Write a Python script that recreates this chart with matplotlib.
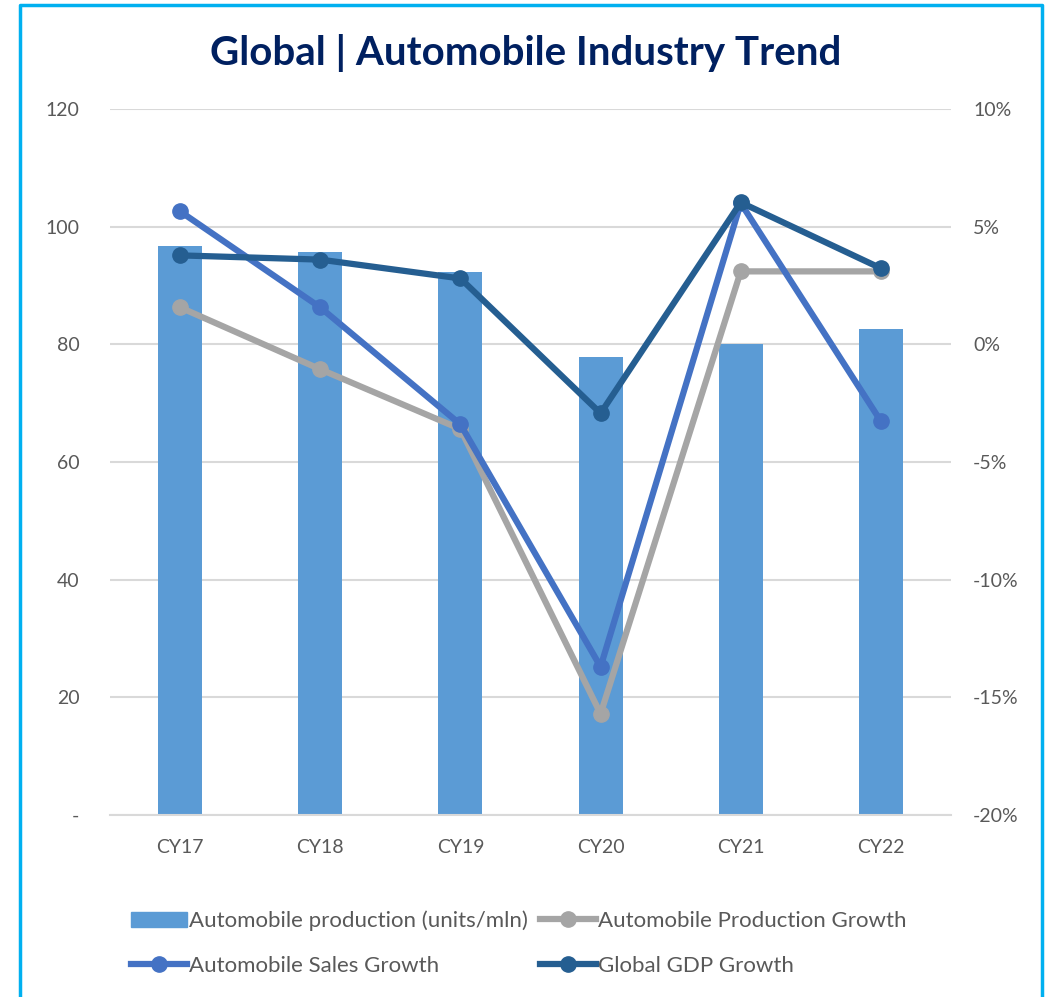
import matplotlib
matplotlib.use("Agg")
import matplotlib.pyplot as plt
from matplotlib.lines import Line2D
from matplotlib.patches import Patch
import numpy as np

categories = ["CY17", "CY18", "CY19", "CY20", "CY21", "CY22"]
production = [96.7, 95.7, 92.3, 77.9, 80.1, 82.6]
prod_growth = [1.57, -1.06, -3.6, -15.7, 3.1, 3.1]
sales_growth = [5.65, 1.57, -3.4, -13.7, 6.0, -3.27]
gdp_growth = [3.78, 3.6, 2.8, -2.93, 6.03, 3.23]

left_ticks = [0, 20, 40, 60, 80, 100, 120]
left_labels = ["-", "20", "40", "60", "80", "100", "120"]
right_ticks = [-20, -15, -10, -5, 0, 5, 10]
right_labels = ["-20%", "-15%", "-10%", "-5%", "0%", "5%", "10%"]

plt.rcParams['font.family'] = ['Lato', 'DejaVu Sans']

BAR = "#5B9BD5"
GRAY = "#A5A5A5"
SALES = "#4472C4"
GDP = "#255E91"
TXT = "#595959"

fig = plt.figure(figsize=(10.51, 9.97), dpi=100)
W, H = 1051, 997
ax = fig.add_axes([110 / W, 1 - 815 / H, (951 - 110) / W, (815 - 109) / H])
x = np.arange(len(categories))

ax.bar(x, production, width=0.315, color=BAR, zorder=2)
ax.set_xlim(-0.5, len(categories) - 0.5)
ax.set_ylim(0, 120)
ax.set_yticks(left_ticks)
ax.set_yticklabels(left_labels)
ax.set_xticks(x)
ax.set_xticklabels(categories)
ax.grid(axis='y', color="#D9D9D9", linewidth=1.5, zorder=0)
ax.set_axisbelow(True)
for s in ax.spines.values():
    s.set_visible(False)
ax.spines['bottom'].set_visible(True)
ax.spines['bottom'].set_color("#D9D9D9")
ax.spines['bottom'].set_linewidth(1.5)
ax.tick_params(axis='both', length=0, labelsize=14, labelcolor=TXT)
ax.tick_params(axis='x', pad=17)
ax.tick_params(axis='y', pad=22)

ax2 = ax.twinx()
ax2.set_ylim(-20, 10)
ax2.set_yticks(right_ticks)
ax2.set_yticklabels(right_labels)
for s in ax2.spines.values():
    s.set_visible(False)
ax2.tick_params(axis='y', length=0, labelsize=14, labelcolor=TXT, pad=16)

lw = 4.5
ms = 11
ax2.plot(x, prod_growth, color=GRAY, lw=lw, marker='o', ms=ms, zorder=3)
ax2.plot(x, sales_growth, color=SALES, lw=lw, marker='o', ms=ms, zorder=4)
ax2.plot(x, gdp_growth, color=GDP, lw=lw, marker='o', ms=ms, zorder=5)

fig.text(0.5, 1 - 53 / H, "Global | Automobile Industry Trend", ha='center', va='center',
         fontsize=29, fontweight='bold', color="#002060")

# legend
h_bar = Patch(color=BAR, label="Automobile production (units/mln)")
h_prod = Line2D([], [], color=GRAY, lw=lw, marker='o', ms=ms, label="Automobile Production Growth")
h_sales = Line2D([], [], color=SALES, lw=lw, marker='o', ms=ms, label="Automobile Sales Growth")
h_gdp = Line2D([], [], color=GDP, lw=lw, marker='o', ms=ms, label="Global GDP Growth")

leg_kw = dict(frameon=False, fontsize=16, labelcolor=TXT, handlelength=2.5, handletextpad=0.1,
              borderaxespad=0, borderpad=0)
y1 = 1 - 921 / H
y2 = 1 - 966 / H
fig.legend(handles=[h_bar], loc='center left', bbox_to_anchor=(131 / W, y1), **leg_kw)
fig.legend(handles=[h_prod], loc='center left', bbox_to_anchor=(540 / W, y1), **leg_kw)
fig.legend(handles=[h_sales], loc='center left', bbox_to_anchor=(131 / W, y2), **leg_kw)
fig.legend(handles=[h_gdp], loc='center left', bbox_to_anchor=(540 / W, y2), **leg_kw)

# border
fig.add_artist(Line2D([20 / W, 20 / W, 1042 / W, 1042 / W], [0, 1 - 5 / H, 1 - 5 / H, 0],
                      transform=fig.transFigure, color="#00B0F0", lw=2.5))

fig.savefig("out.png", dpi=100)
